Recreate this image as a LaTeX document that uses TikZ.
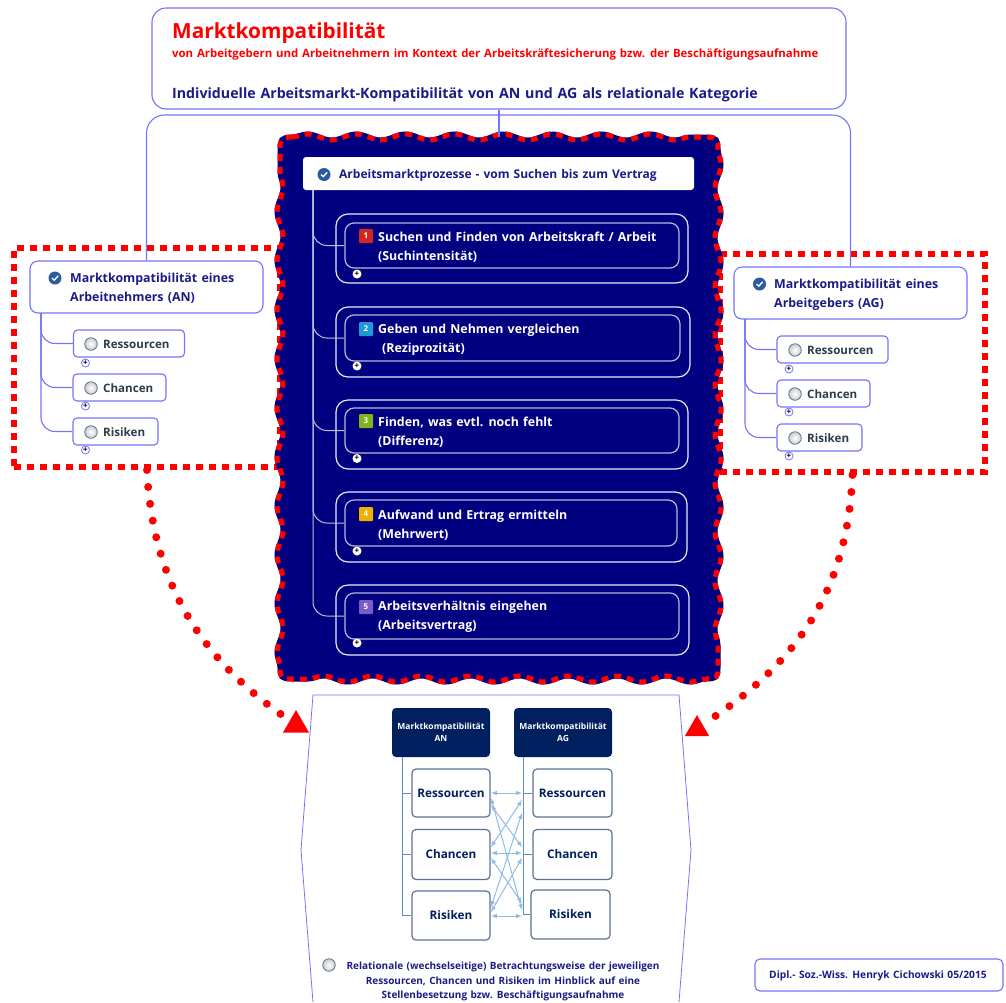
\documentclass[tikz,border=0pt]{standalone}
\usepackage{fontspec}
\setmainfont[WordSpace=1.3]{Open Sans}
\usetikzlibrary{positioning,shapes.geometric,arrows,calc}
\usetikzlibrary{decorations.pathmorphing}
\definecolor{mapblue}{HTML}{7474FA}
\definecolor{coreblue}{HTML}{000080}
\definecolor{textnavy}{HTML}{1B1B85}
\definecolor{leafdark}{HTML}{2A3D4A}
\definecolor{redline}{HTML}{FF0000}
\definecolor{headblue}{HTML}{002060}
\definecolor{cellline}{HTML}{5F7096}
\definecolor{treeblue}{HTML}{5A8FC4}
\definecolor{relblue}{HTML}{8FBBE3}
\definecolor{checkblue}{HTML}{2F5AA0}
\definecolor{badgered}{HTML}{D0281E}
\definecolor{badgeblue}{HTML}{1F9AD6}
\definecolor{badgegreen}{HTML}{7DB51A}
\definecolor{badgeyellow}{HTML}{F0B000}
\definecolor{badgeviolet}{HTML}{7A5CC8}
\tikzset{
	mapbox/.style={draw=mapblue,fill=white,line width=1.1pt,rounded corners=#1,inner sep=0pt},
	mapbox/.default=8pt,
	mapline/.style={draw=mapblue,line width=1.1pt},
	redframe/.style={draw=redline,line width=6pt,dash pattern=on 7pt off 6pt,inner sep=0pt},
	reddots/.style={draw=redline,line width=8pt,line cap=round,dash pattern=on 0pt off 17pt},
	redtriangle/.style={regular polygon,regular polygon sides=3,fill=redline,inner sep=0pt,minimum size=#1},
	coreframe/.style={decoration={snake,segment length=49pt,amplitude=3pt},fill=coreblue,draw=coreblue,line width=5pt,postaction={draw=redline,dash pattern=on 7pt off 6pt}},
	stepout/.style={draw=white!92!coreblue,line width=1.2pt,rounded corners=12pt,inner sep=0pt},
	stepin/.style={draw=white!72!coreblue,line width=1.2pt,rounded corners=9pt,inner sep=0pt},
	steplink/.style={draw=white!75!coreblue,line width=1pt,rounded corners=14pt},
	steptext/.style={anchor=west,align=left,inner sep=0pt,text=white,font=\bfseries\fontsize{12.4}{18.6}\selectfont},
	badge/.style={fill=#1,text=white,rounded corners=1pt,inner sep=0pt,minimum size=14pt,font=\bfseries\fontsize{8}{8}\selectfont},
	plainlabel/.style={anchor=west,align=left,inner sep=0pt,text=textnavy,font=\bfseries\fontsize{12.4}{19}\selectfont},
	leaflabel/.style={anchor=west,inner sep=0pt,text=leafdark,font=\bfseries\fontsize{11.6}{14}\selectfont},
	radioicon/.style={circle,draw=cellline,line width=0.8pt,inner sep=0pt,minimum size=12.5pt,inner color=white,outer color=black!20},
	plusmark/.style={circle,draw=mapblue,fill=white,line width=0.8pt,inner sep=0pt,minimum size=8pt,text=black,font=\bfseries\fontsize{8}{8}\selectfont},
	plusdark/.style={circle,fill=white,inner sep=0pt,minimum size=9pt,text=black,font=\bfseries\fontsize{8}{8}\selectfont},
	headcell/.style={fill=headblue,text=white,rounded corners=4pt,inner sep=0pt,minimum width=98pt,minimum height=49pt,align=center,font=\bfseries\fontsize{8.5}{11.5}\selectfont},
	cell/.style={draw=cellline,fill=white,line width=1.2pt,rounded corners=4pt,inner sep=0pt,text=headblue,font=\bfseries\fontsize{11.8}{14}\selectfont},
	treeline/.style={draw=treeblue,line width=1pt},
	relarrow/.style={<->,>=latex,draw=relblue,line width=1pt},
	checkicon/.pic={
		\fill[checkblue] (0,0) circle (6.5);
		\draw[white,line width=1.4pt] (-3,0) -- (-0.8,2.2) -- (3.2,-2.2);
	}
}
\begin{document}
\begin{tikzpicture}[x=1pt,y=-1pt]
		\useasboundingbox (0,0) rectangle (1006,1002);
		% frames behind the centre block
		\node[redframe,minimum width=266pt,minimum height=219pt] (anframe) at (147,357.5) {};
		\node[redframe,minimum width=265pt,minimum height=218pt] (agframe) at (852.5,363) {};
		% title
		\node[mapbox=14pt,minimum width=694pt,minimum height=101pt] (topbox) at (499,58.5) {};
		\node[anchor=west,inner sep=0pt,text=redline,font=\bfseries\fontsize{20.8}{24}\selectfont] (title) at (172,33) {Marktkompatibilität};
		\node[anchor=west,inner sep=0pt,text=redline,font=\bfseries\fontsize{11.4}{13}\selectfont] (subtitle) at (172,55) {von Arbeitgebern und Arbeitnehmern im Kontext der Arbeitskräftesicherung bzw. der Beschäftigungsaufnahme};
		\node[anchor=west,inner sep=0pt,text=textnavy,font=\bfseries\fontsize{14.2}{17}\selectfont] (subject) at (172,95) {Individuelle Arbeitsmarkt-Kompatibilität von AN und AG als relationale Kategorie};
		% left side
		\node[mapbox,minimum width=233pt,minimum height=52pt] (anbox) at (146.5,287) {};
		\pic at (55,278) {checkicon};
		\node[plainlabel] (antext) at (70,288.5) {Marktkompatibilität  eines\\Arbeitnehmers  (AN)};
		\node[mapbox=4pt,minimum width=111pt,minimum height=27pt] (anres) at (129,343.5) {};
		\node[mapbox=4pt,minimum width=93pt,minimum height=27pt] (anch) at (119.5,387.5) {};
		\node[mapbox=4pt,minimum width=85pt,minimum height=27pt] (anri) at (115.5,431.5) {};
		\node[radioicon] (anresicon) at (91,344) {};
		\node[radioicon] (anchicon) at (91,388) {};
		\node[radioicon] (anriicon) at (91,432) {};
		\node[leaflabel] (anrestext) at (103,344.5) {Ressourcen};
		\node[leaflabel] (anchtext) at (103,388.5) {Chancen};
		\node[leaflabel] (anritext) at (103,432.5) {Risiken};
		\node[plusmark] (anresplus) at (85.5,363) {+};
		\node[plusmark] (anchplus) at (85.5,406) {+};
		\node[plusmark] (anriplus) at (85.5,450) {+};
		\coordinate (antrunk) at (41,313);
		\draw[mapline,rounded corners=14pt] (antrunk) |- (anres.west);
		\draw[mapline,rounded corners=14pt] (antrunk) |- (anch.west);
		\draw[mapline,rounded corners=14pt] (antrunk) |- (anri.west);
		% right side
		\node[mapbox,minimum width=233pt,minimum height=52pt] (agbox) at (850.5,293) {};
		\pic at (759.5,284) {checkicon};
		\node[plainlabel] (agtext) at (774,294.5) {Marktkompatibilität  eines\\Arbeitgebers (AG)};
		\node[mapbox=4pt,minimum width=111pt,minimum height=27pt] (agres) at (832.5,349.5) {};
		\node[mapbox=4pt,minimum width=93pt,minimum height=27pt] (agch) at (823.5,393.5) {};
		\node[mapbox=4pt,minimum width=85pt,minimum height=27pt] (agri) at (819.5,437.5) {};
		\node[radioicon] (agresicon) at (795,350) {};
		\node[radioicon] (agchicon) at (795,394) {};
		\node[radioicon] (agriicon) at (795,438) {};
		\node[leaflabel] (agrestext) at (807,350.5) {Ressourcen};
		\node[leaflabel] (agchtext) at (807,394.5) {Chancen};
		\node[leaflabel] (agritext) at (807,438.5) {Risiken};
		\node[plusmark] (agresplus) at (789,369) {+};
		\node[plusmark] (agchplus) at (789,412) {+};
		\node[plusmark] (agriplus) at (789,456) {+};
		\coordinate (agtrunk) at (745,319);
		\draw[mapline,rounded corners=14pt] (agtrunk) |- (agres.west);
		\draw[mapline,rounded corners=14pt] (agtrunk) |- (agch.west);
		\draw[mapline,rounded corners=14pt] (agtrunk) |- (agri.west);
		% links from the title
		\coordinate (topjoin) at (499,115);
		\draw[mapline,rounded corners=18pt] (anbox.north) |- (topjoin) -| (agbox.north);
		% centre block
		\coordinate (corenorth) at (499,137);
		\draw[coreframe] (292,137) decorate {-- (706,137)} .. controls (717,137) and (718,140) .. (718,149)
			decorate {-- (718,668)} .. controls (718,677) and (717,679) .. (706,679)
			decorate {-- (292,679)} .. controls (281,679) and (280,677) .. (280,668)
			decorate {-- (280,149)} .. controls (280,140) and (281,137) .. (292,137) -- cycle;
		\draw[mapline] (topbox.south) -- (corenorth);
		\node[fill=white,rounded corners=3pt,inner sep=0pt,minimum width=391pt,minimum height=33pt] (corehead) at (498.5,173.5) {};
		\pic at (324,174.5) {checkicon};
		\node[anchor=west,inner sep=0pt,text=textnavy,font=\bfseries\fontsize{12}{14}\selectfont] (coretext) at (339,175.5) {Arbeitsmarktprozesse - vom Suchen bis zum Vertrag};
		\node[stepout,minimum width=352pt,minimum height=69pt] (outer1) at (512,248.5) {};
		\node[stepin,minimum width=334pt,minimum height=45pt] (step1) at (512,245.5) {};
		\node[stepout,minimum width=354pt,minimum height=70pt] (outer2) at (513,342) {};
		\node[stepin,minimum width=335pt,minimum height=46pt] (step2) at (512.5,338) {};
		\node[stepout,minimum width=352pt,minimum height=69pt] (outer3) at (512,434.5) {};
		\node[stepin,minimum width=334pt,minimum height=45pt] (step3) at (512,430.5) {};
		\node[stepout,minimum width=351pt,minimum height=70pt] (outer4) at (511.5,527) {};
		\node[stepin,minimum width=332pt,minimum height=46pt] (step4) at (511,523) {};
		\node[stepout,minimum width=353pt,minimum height=70pt] (outer5) at (512.5,620) {};
		\node[stepin,minimum width=334pt,minimum height=46pt] (step5) at (512,616) {};
		\coordinate (coretrunk) at (313,190);
		\draw[steplink] (coretrunk) |- (step1.west);
		\draw[steplink] (coretrunk) |- (step2.west);
		\draw[steplink] (coretrunk) |- (step3.west);
		\draw[steplink] (coretrunk) |- (step4.west);
		\draw[steplink] (coretrunk) |- (step5.west);
		\node[badge=badgered] (badge1) at (366,236) {1};
		\node[badge=badgeblue] (badge2) at (366,329) {2};
		\node[badge=badgegreen] (badge3) at (366,421) {3};
		\node[badge=badgeyellow] (badge4) at (366,514) {4};
		\node[badge=badgeviolet] (badge5) at (366,607) {5};
		\node[steptext] (text1) at (378,247) {Suchen und Finden von Arbeitskraft / Arbeit\\(Suchintensität)};
		\node[steptext] (text2) at (378,339.5) {Geben und Nehmen vergleichen\\\hspace*{4pt}(Reziprozität)};
		\node[steptext] (text3) at (378,432) {Finden, was evtl.  noch fehlt\\(Differenz)};
		\node[steptext] (text4) at (378,525) {Aufwand und Ertrag ermitteln\\(Mehrwert)};
		\node[steptext] (text5) at (378,617) {Arbeitsverhältnis eingehen\\(Arbeitsvertrag)};
		\node[plusdark] (plus1) at (357,274) {+};
		\node[plusdark] (plus2) at (357,366) {+};
		\node[plusdark] (plus3) at (357,458.5) {+};
		\node[plusdark] (plus4) at (357,551) {+};
		\node[plusdark] (plus5) at (357,643) {+};
		% dotted arcs
		\coordinate (anend) at (282,715);
		\coordinate (agend) at (711,719);
		\draw[reddots] (anframe.south) .. controls (152,570) and (190,650) .. (anend);
		\draw[reddots] (agframe.south) .. controls (848,570) and (815,650) .. (agend);
		\node[redtriangle=30pt] (antri) at (296,725) {};
		\node[redtriangle=28pt] (agtri) at (697,729) {};
		% lower sheet
		\coordinate (sheettl) at (313,695);
		\coordinate (sheettr) at (679,695);
		\coordinate (sheetl) at (301,850);
		\coordinate (sheetr) at (691,850);
		\coordinate (sheetbl) at (313,1002);
		\coordinate (sheetbr) at (679,1002);
		\draw[draw=mapblue,line width=0.8pt] (sheetbl) -- (sheetl) -- (sheettl) -- (sheettr) -- (sheetr) -- (sheetbr);
		\node[headcell] (anhead) at (441,732.5) {Marktkompatibilität\\AN};
		\node[headcell] (aghead) at (563,732.5) {Marktkompatibilität\\AG};
		\node[cell,minimum width=78pt,minimum height=48pt] (cellanres) at (451,793) {Ressourcen};
		\node[cell,minimum width=78pt,minimum height=50pt] (cellanch) at (451,854.5) {Chancen};
		\node[cell,minimum width=78pt,minimum height=49pt] (cellanri) at (451,915.5) {Risiken};
		\node[cell,minimum width=79pt,minimum height=48pt] (cellagres) at (572.5,793) {Ressourcen};
		\node[cell,minimum width=79pt,minimum height=50pt] (cellagch) at (572.5,854.5) {Chancen};
		\node[cell,minimum width=79pt,minimum height=49pt] (cellagri) at (570.5,914.5) {Risiken};
		\coordinate (antree) at (402,757);
		\coordinate (agtree) at (523,757);
		\draw[treeline] (antree) |- (cellanres.west);
		\draw[treeline] (antree) |- (cellanch.west);
		\draw[treeline] (antree) |- (cellanri.west);
		% relations
		\coordinate (a1) at (491,793);
		\coordinate (a2) at (491,798);
		\coordinate (a3) at (491,805);
		\coordinate (b1) at (491,847);
		\coordinate (b2) at (491,853);
		\coordinate (b3) at (491,858);
		\coordinate (c1) at (491,907);
		\coordinate (c2) at (491,912);
		\coordinate (c3) at (491,916);
		\coordinate (p1) at (522,793);
		\coordinate (p2) at (522,800);
		\coordinate (p3) at (522,813);
		\coordinate (q1) at (522,847);
		\coordinate (q2) at (522,853);
		\coordinate (q3) at (522,858);
		\coordinate (r1) at (522,903);
		\coordinate (r2) at (522,910);
		\coordinate (r3) at (522,916);
		\draw[relarrow] (a1) -- (p1);
		\draw[relarrow] (a3) -- (q1);
		\draw[relarrow] (a2) -- (r2);
		\draw[relarrow] (b1) -- (p2);
		\draw[relarrow] (b2) -- (q2);
		\draw[relarrow] (b3) -- (r1);
		\draw[relarrow] (c1) -- (p3);
		\draw[relarrow] (c2) -- (q3);
		\draw[relarrow] (c3) -- (r3);
		\draw[treeline] (agtree) |- (cellagres.west);
		\draw[treeline] (agtree) |- (cellagch.west);
		\draw[treeline] (agtree) |- (cellagri.west);
		\node[radioicon] (noteicon) at (329,965) {};
		\node[align=center,inner sep=0pt,text=textnavy,font=\bfseries\fontsize{10}{14.5}\selectfont] (notetext) at (503,981.5) {Relationale (wechselseitige) Betrachtungsweise der jeweiligen\\Ressourcen, Chancen und Risiken im Hinblick auf eine\\Stellenbesetzung bzw. Beschäftigungsaufnahme};
		% signature
		\node[mapbox=5pt,minimum width=248pt,minimum height=32pt] (signbox) at (879,975) {};
		\node[anchor=west,inner sep=0pt,text=textnavy,font=\bfseries\fontsize{10.2}{12}\selectfont] (signtext) at (769,976) {Dipl.- Soz.-Wiss. Henryk Cichowski 05/2015};
\end{tikzpicture}
\end{document}
